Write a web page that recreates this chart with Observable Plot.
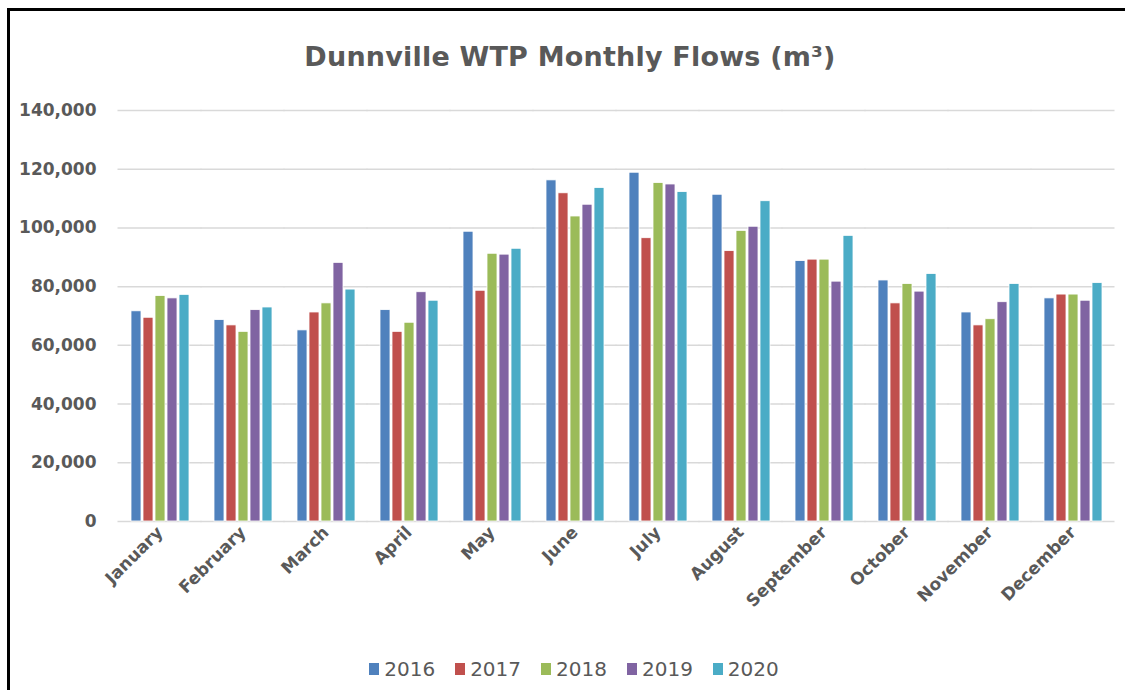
<!DOCTYPE html>
<html>
<head>
<meta charset="utf-8">
<script src="https://cdn.jsdelivr.net/npm/d3@7"></script>
<script src="https://cdn.jsdelivr.net/npm/@observablehq/plot@0.6"></script>
<style>
  html, body { margin: 0; padding: 0; background: #fff; overflow: hidden; }
  #frame { position: absolute; left: 7px; top: 8px; width: 1140px; height: 720px; border: 3px solid #000; box-sizing: border-box; }
  #title { position: absolute; left: 0; top: 38px; width: 1140px; text-align: center; font: 700 27px "DejaVu Sans", sans-serif; color: #595959; line-height: 38px; letter-spacing: 0.2px; }
  #chart { position: absolute; left: 0; top: 80px; }
  #legend { position: absolute; left: 0; top: 657px; width: 1148px; display: flex; justify-content: center; gap: 20px; font: 400 20px "DejaVu Sans", sans-serif; color: #595959; line-height: 24px; }
  .item { display: flex; align-items: center; gap: 5px; }
  .sw { width: 10px; height: 12px; display: inline-block; }
</style>
</head>
<body>
<div id="frame"></div>
<div id="title">Dunnville WTP Monthly Flows (m³)</div>
<div id="chart"></div>
<div id="legend"></div>
<script>
const months = ["January","February","March","April","May","June","July","August","September","October","November","December"];
const years = ["2016","2017","2018","2019","2020"];
const colors = ["#4F81BD","#C0504D","#9BBB59","#8064A2","#4BACC6"];
const flows2016 = [71600, 68600, 65100, 72000, 98700, 116200, 118800, 111300, 88700, 82100, 71200, 76000];
const flows2017 = [69400, 66800, 71200, 64600, 78600, 111800, 96500, 92100, 89200, 74300, 66800, 77300];
const flows2018 = [76800, 64600, 74300, 67700, 91200, 103900, 115300, 99000, 89200, 80900, 68900, 77300];
const flows2019 = [76000, 72000, 88100, 78100, 90900, 107900, 114800, 100400, 81700, 78300, 74700, 75200];
const flows2020 = [77200, 72900, 79000, 75200, 92900, 113600, 112200, 109100, 97300, 84300, 80900, 81200];
const yTicks = [0, 20000, 40000, 60000, 80000, 100000, 120000, 140000];

const series = [flows2016, flows2017, flows2018, flows2019, flows2020];
const data = months.flatMap((m, i) => years.map((y, j) => ({month: m, year: y, value: series[j][i]})));

const chart = Plot.plot({
  width: 1125,
  height: 560,
  marginLeft: 115,
  marginRight: 7,
  marginTop: 30,
  marginBottom: 119,
  style: {fontFamily: "'DejaVu Sans', sans-serif", fontWeight: 700, fontSize: "17px", color: "#595959", background: "transparent", overflow: "visible"},
  fx: {domain: months, paddingInner: 0.26, paddingOuter: 0.13, label: null},
  x: {domain: years, paddingInner: 0.2, paddingOuter: 0, axis: null},
  y: {domain: [0, 140000], label: null, axis: null},
  color: {domain: years, range: colors},
  marks: [
    Plot.ruleY(yTicks, {stroke: "#d9d9d9", strokeWidth: 1.5, insetLeft: -11.5, insetRight: -11.5}),
    Plot.barY(data, {fx: "month", x: "year", y: "value", fill: "year", stroke: "#ffffff", strokeWidth: 0.8}),
    Plot.axisY({ticks: yTicks, tickFormat: d3.format(","), tickSize: 0, tickPadding: 33, label: null, fill: "#595959"}),
    Plot.axisFx({anchor: "bottom", tickRotate: -45, tickSize: 0, tickPadding: 8, label: null, fontSize: 17, fill: "#595959"})
  ]
});
document.getElementById("chart").appendChild(chart);

const legend = document.getElementById("legend");
years.forEach((y, j) => {
  const item = document.createElement("div");
  item.className = "item";
  const sw = document.createElement("span");
  sw.className = "sw";
  sw.style.background = colors[j];
  const t = document.createElement("span");
  t.textContent = y;
  item.appendChild(sw);
  item.appendChild(t);
  legend.appendChild(item);
});
</script>
</body>
</html>
